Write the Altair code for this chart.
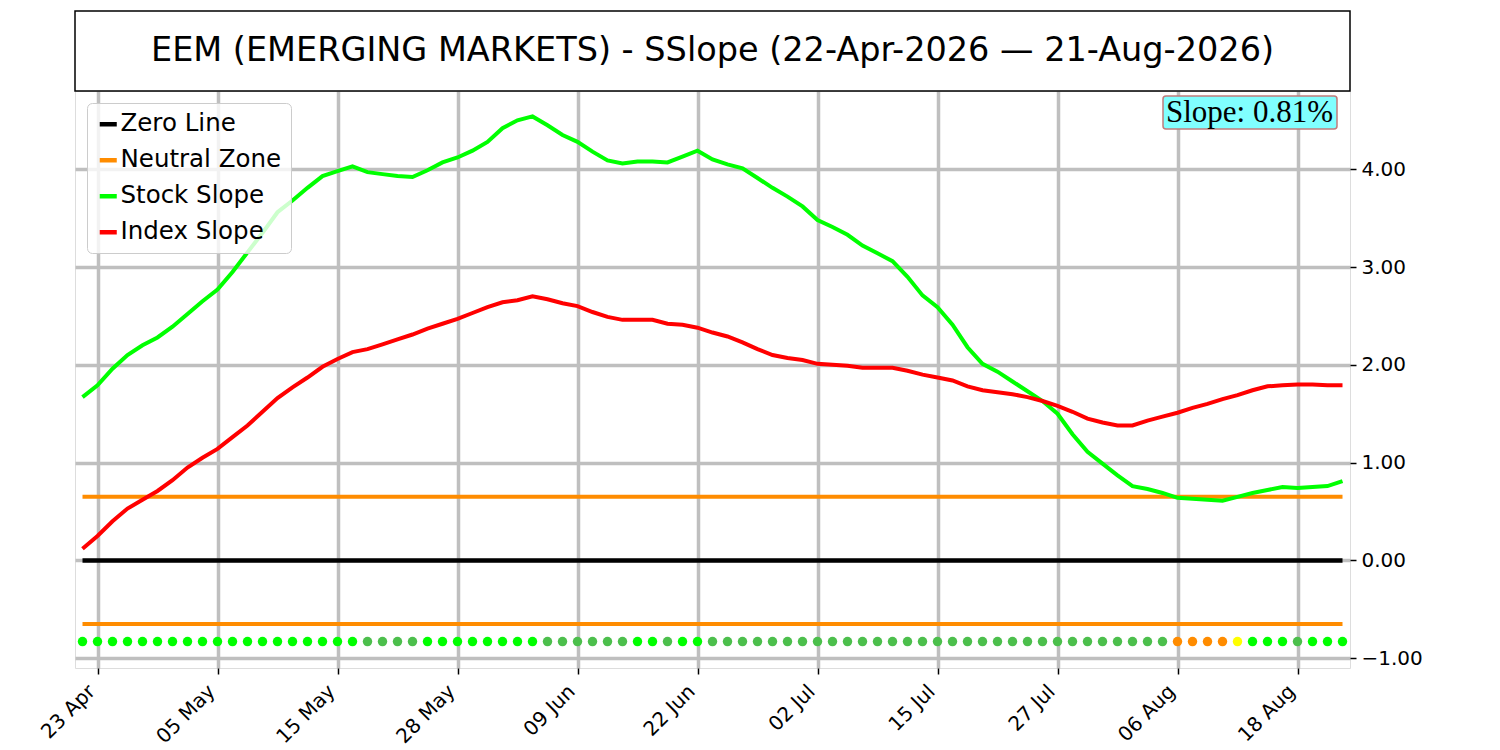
import altair as alt
import pandas as pd

title_text = "EEM (EMERGING MARKETS) - SSlope (22-Apr-2026 \u2014 21-Aug-2026)"
tick_idx = [1, 9, 17, 25, 33, 41, 49, 57, 65, 73, 81]
tick_labels = ["23 Apr", "05 May", "15 May", "28 May", "09 Jun", "22 Jun",
               "02 Jul", "15 Jul", "27 Jul", "06 Aug", "18 Aug"]

stock_slope = [1.67, 1.79, 1.96, 2.10, 2.20, 2.28, 2.39, 2.52, 2.65, 2.77,
               2.95, 3.15, 3.35, 3.56, 3.68, 3.81, 3.93, 3.98, 4.03, 3.97,
               3.95, 3.93, 3.92, 3.99, 4.07, 4.12, 4.19, 4.28, 4.42, 4.50,
               4.54, 4.45, 4.35, 4.28, 4.18, 4.09, 4.06, 4.08, 4.08, 4.07,
               4.13, 4.19, 4.10, 4.05, 4.01, 3.91, 3.81, 3.72, 3.62, 3.48,
               3.41, 3.33, 3.22, 3.14, 3.06, 2.90, 2.71, 2.59, 2.41, 2.18,
               2.01, 1.93, 1.83, 1.73, 1.63, 1.50, 1.29, 1.11, 0.99, 0.87,
               0.76, 0.73, 0.69, 0.64, 0.63, 0.62, 0.61, 0.65, 0.69, 0.72,
               0.75, 0.74, 0.75, 0.76, 0.81]

index_slope = [0.12, 0.25, 0.40, 0.53, 0.62, 0.71, 0.82, 0.95, 1.05, 1.14,
               1.26, 1.38, 1.52, 1.66, 1.77, 1.87, 1.98, 2.06, 2.13, 2.16,
               2.21, 2.26, 2.31, 2.37, 2.42, 2.47, 2.53, 2.59, 2.64, 2.66,
               2.70, 2.67, 2.63, 2.60, 2.54, 2.49, 2.46, 2.46, 2.46, 2.42,
               2.41, 2.38, 2.33, 2.29, 2.23, 2.16, 2.10, 2.07, 2.05, 2.01,
               2.00, 1.99, 1.97, 1.97, 1.97, 1.94, 1.90, 1.87, 1.84, 1.78,
               1.74, 1.72, 1.70, 1.67, 1.63, 1.58, 1.52, 1.45, 1.41, 1.38,
               1.38, 1.43, 1.47, 1.51, 1.56, 1.60, 1.65, 1.69, 1.74, 1.78,
               1.79, 1.80, 1.80, 1.79, 1.79]

# S = strong (bright green), W = weak (dark green), N = neutral (orange), Y = yellow
dot_state = list(
    "SSSSSSSSSSSSSSSSSSS"
    "WWWW"
    "SSSSSSSS"
    "WWWWWW"
    "SS"
    "W"
    "SS"
    "WWWWWWWWWWWWWWWWWWWWWWWWWWWWWWW"
    "NNNN"
    "Y"
    "SSS"
    "W"
    "SSS"
)
state_colors = {"S": "#00ff00", "W": "#4cbf4c", "N": "#ff8c00", "Y": "#ffff00"}
neutral_level = 0.65
dot_level = -0.83

n = len(stock_slope)
idx = list(range(n))

stock_df = pd.DataFrame({"i": idx, "v": stock_slope, "series": ["Stock Slope"] * n})
index_df = pd.DataFrame({"i": idx, "v": index_slope, "series": ["Index Slope"] * n})
zero_df = pd.DataFrame({"i": [0, n - 1], "v": [0.0, 0.0], "series": ["Zero Line"] * 2})
neutral_df = pd.DataFrame({
    "i": [0, n - 1, 0, n - 1],
    "v": [neutral_level, neutral_level, -neutral_level, -neutral_level],
    "series": ["Neutral Zone"] * 4,
    "part": ["u", "u", "l", "l"],
})
dots_df = pd.DataFrame({"i": idx, "v": [dot_level] * n,
                        "c": [state_colors[s] for s in dot_state]})
label_df = pd.DataFrame({"t": [f"Slope: {stock_slope[-1]:.2f}%"]})
title_df = pd.DataFrame({"t": [title_text]})

W, H = 1275, 577
GRID = "#bfbfbf"

label_expr = ("[" + ",".join(f"'{l}'" for l in tick_labels) + "][indexof(["
              + ",".join(str(i) for i in tick_idx) + "], datum.value)]")

x_enc = alt.X("i:Q",
              scale=alt.Scale(domain=[-0.5, n - 0.5], nice=False, zero=False),
              axis=alt.Axis(values=tick_idx, labelExpr=label_expr, labelAngle=-45,
                            labelAlign="right", labelBaseline="middle", labelFontSize=20,
                            labelFont="DejaVu Sans", labelColor="black",
                            labelPadding=14, labelOffset=-6,
                            tickSize=6, tickColor="black", tickWidth=1.5,
                            grid=True, gridColor=GRID, gridWidth=3.5,
                            domain=False, title=None))
y_enc = alt.Y("v:Q",
              scale=alt.Scale(domain=[-1.1, 4.8], nice=False, zero=False),
              axis=alt.Axis(orient="right", values=[-1, 0, 1, 2, 3, 4], format=".2f",
                            labelFontSize=20, labelFont="DejaVu Sans", labelColor="black",
                            labelPadding=5, tickSize=6, tickColor="black", tickWidth=1.5,
                            grid=True, gridColor=GRID, gridWidth=3.5,
                            domain=False, title=None))
color_scale = alt.Scale(domain=["Zero Line", "Neutral Zone", "Stock Slope", "Index Slope"],
                        range=["#000000", "#ff8c00", "#00ff00", "#ff0000"])
legend = alt.Legend(title=None, orient="top-left", offset=12, symbolType="stroke",
                    symbolSize=290, symbolStrokeWidth=4.5, labelFontSize=24.5,
                    labelFont="DejaVu Sans", labelColor="black", labelOffset=0,
                    labelLimit=0, rowPadding=11, padding=9,
                    fillColor="rgba(255,255,255,0.8)",
                    strokeColor="#cccccc", cornerRadius=5)
c_enc = alt.Color("series:N", scale=color_scale, legend=legend)

zero_layer = alt.Chart(zero_df).mark_line(strokeWidth=4.5).encode(x=x_enc, y=y_enc, color=c_enc)
neutral_layer = alt.Chart(neutral_df).mark_line(strokeWidth=4).encode(
    x=x_enc, y=y_enc, color=c_enc, detail="part:N")
stock_layer = alt.Chart(stock_df).mark_line(strokeWidth=4).encode(x=x_enc, y=y_enc, color=c_enc)
index_layer = alt.Chart(index_df).mark_line(strokeWidth=4).encode(x=x_enc, y=y_enc, color=c_enc)
dots_layer = alt.Chart(dots_df).mark_circle(size=90, opacity=1).encode(
    x=x_enc, y=y_enc, fill=alt.Fill("c:N", scale=None))

title_box = alt.Chart(title_df).mark_rect(fill="white", stroke="black", strokeWidth=1.5).encode(
    x=alt.value(0), x2=alt.value(W), y=alt.value(-80), y2=alt.value(0))
title_txt = alt.Chart(title_df).mark_text(fontSize=33.5, font="DejaVu Sans", color="black",
                                          baseline="middle", align="center").encode(
    x=alt.value(W / 2), y=alt.value(-40), text="t:N")

slope_box = alt.Chart(label_df).mark_rect(fill="#80ffff", stroke="#c07c7c", strokeWidth=1.5,
                                          cornerRadius=3).encode(
    x=alt.value(W - 187), x2=alt.value(W - 13), y=alt.value(5), y2=alt.value(38))
slope_txt = alt.Chart(label_df).mark_text(fontSize=31, font="Liberation Serif", color="black",
                                          baseline="middle", align="right").encode(
    x=alt.value(W - 17), y=alt.value(22), text="t:N")

chart = alt.layer(
    zero_layer, neutral_layer, stock_layer, index_layer, dots_layer,
    title_box, title_txt, slope_box, slope_txt
).properties(
    width=W, height=H,
    padding={"left": 29, "top": 2, "right": 10, "bottom": 5},
).configure_view(
    stroke="black", strokeWidth=1.5
).configure(font="DejaVu Sans")

chart.save("out.html", embed_options={"renderer": "svg", "actions": False})
